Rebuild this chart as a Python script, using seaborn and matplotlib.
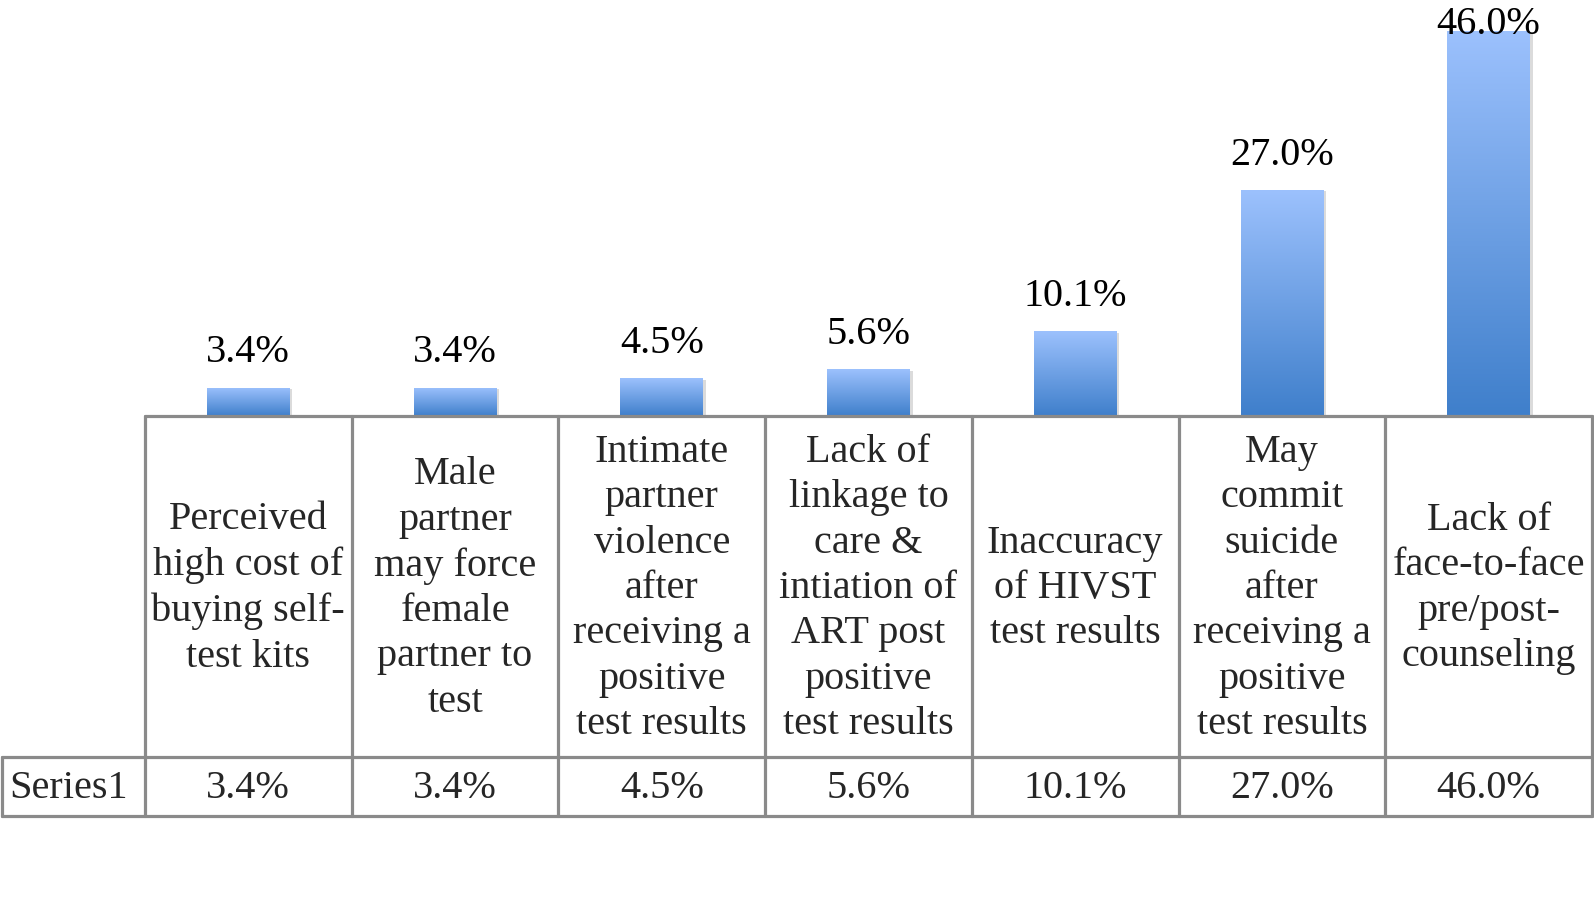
import numpy as np
import pandas as pd
import matplotlib
matplotlib.use("Agg")
import matplotlib.pyplot as plt
from matplotlib.colors import LinearSegmentedColormap
import matplotlib.patheffects as pe
import seaborn as sns

# data
barriers = [
    "Perceived\nhigh cost of\nbuying self-\ntest kits",
    "Male\npartner\nmay force\nfemale\npartner to\ntest",
    "Intimate\npartner\nviolence\nafter\nreceiving a\npositive\ntest results",
    "Lack of\nlinkage to\ncare &\nintiation of\nART post\npositive\ntest results",
    "Inaccuracy\nof HIVST\ntest results",
    "May\ncommit\nsuicide\nafter\nreceiving a\npositive\ntest results",
    "Lack of\nface-to-face\npre/post-\ncounseling",
]
percent = [3.4, 3.4, 4.5, 5.6, 10.1, 27.0, 46.0]
series_name = "Series1"

df = pd.DataFrame({"barrier": barriers, "pct": percent})

sns.set_theme(style="white")
plt.rcParams["font.family"] = ["Liberation Serif", "DejaVu Serif"]
FS = 29

W, H = 1594, 899
fig = plt.figure(figsize=(W / 100, H / 100), dpi=100)

# bar area (pixel layout of the reference)
x0, x1, base = 145, 1592, 416
ax = fig.add_axes([x0 / W, 1 - base / H, (x1 - x0) / W, base / H])
sns.barplot(data=df, x="barrier", y="pct", width=0.4, color="#5b8fd6", ax=ax)
ax.set_ylim(0, 49.7)
ax.set_xlim(-0.5, len(barriers) - 0.5)
ax.axis("off")

# gradient fill: light on top, darker at base
grad = LinearSegmentedColormap.from_list("g", ["#3f7fcb", "#9cc1fd"])
img = np.linspace(0, 1, 256).reshape(-1, 1)
for p in ax.patches:
    bx, by, bw, bh = p.get_x(), p.get_y(), p.get_width(), p.get_height()
    p.set_edgecolor("none")
    p.set_path_effects([pe.SimplePatchShadow(offset=(2, -1), shadow_rgbFace="#999999", alpha=0.35)])
    p.set_facecolor("#6b9be0")
    im = ax.imshow(img, cmap=grad, aspect="auto", origin="lower",
                   extent=[bx, bx + bw, by, by + bh], zorder=3)
    im.set_clip_path(p)

# value labels above bars (kept inside the plot area like Excel)
for i, v in enumerate(percent):
    top_px = ax.transData.transform((i, v))[1]
    room = fig.bbox.height - top_px - 25
    off = min(35, room) * 72 / 100
    ax.annotate(f"{v:.1f}%", (i, v), xytext=(0, off), textcoords="offset points",
                ha="center", va="center", fontsize=FS, color="black",
                annotation_clip=False)

# data table drawn in pixel coordinates
tab = fig.add_axes([0, 0, 1, 1])
tab.set_xlim(0, W)
tab.set_ylim(H, 0)
tab.axis("off")
col_w = (x1 - x0) / len(barriers)
edges = [x0 + k * col_w for k in range(len(barriers) + 1)]
row_top, row_mid, row_bot = base, 757, 816
lc, lw = "#8a8a8a", 2.3
tab.plot([x0, x1], [row_top, row_top], color=lc, lw=lw)
tab.plot([2, x1], [row_mid, row_mid], color=lc, lw=lw)
tab.plot([2, x1], [row_bot, row_bot], color=lc, lw=lw)
tab.plot([2, 2], [row_mid, row_bot], color=lc, lw=lw)
for e in edges:
    tab.plot([e, e], [row_top, row_bot], color=lc, lw=lw)

for k, (lab, v) in enumerate(zip(barriers, percent)):
    cx = (edges[k] + edges[k + 1]) / 2
    tab.text(cx, (row_top + row_mid) / 2 + 2, lab, ha="center", va="center",
             fontsize=FS, linespacing=1.3, multialignment="center")
    tab.text(cx, (row_mid + row_bot) / 2 + 2, f"{v:.1f}%", ha="center", va="center", fontsize=FS)
tab.text(9, (row_mid + row_bot) / 2 + 2, series_name, ha="left", va="center", fontsize=FS)

fig.savefig("out.png", dpi=100)
